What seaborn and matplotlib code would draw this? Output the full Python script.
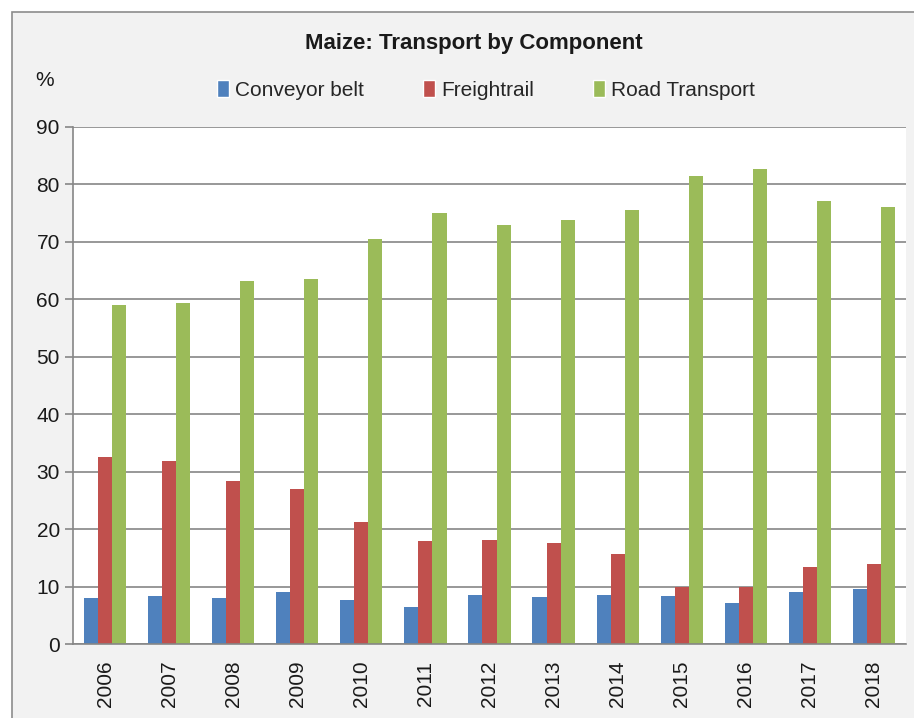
import numpy as np
import pandas as pd
import matplotlib
matplotlib.use('Agg')
import matplotlib.pyplot as plt
from matplotlib.patches import Rectangle
import seaborn as sns

years = ['2006', '2007', '2008', '2009', '2010', '2011', '2012',
         '2013', '2014', '2015', '2016', '2017', '2018']
conveyor = [8.0, 8.4, 8.0, 9.1, 7.7, 6.5, 8.5, 8.2, 8.5, 8.3, 7.1, 9.0, 9.5]
freight = [32.5, 31.9, 28.3, 26.9, 21.2, 18.0, 18.1, 17.6, 15.7, 10.0, 10.0, 13.4, 14.0]
road = [59.0, 59.3, 63.2, 63.5, 70.5, 75.0, 72.9, 73.8, 75.5, 81.5, 82.7, 77.2, 76.0]
components = ['Conveyor belt', 'Freightrail', 'Road Transport']
colors = ['#4f81bd', '#c0504d', '#9bbb59']

df = pd.DataFrame({'Year': years * 3,
                   'Component': np.repeat(components, len(years)),
                   'Value': conveyor + freight + road})

sns.set_theme(style='white')
plt.rcParams['font.family'] = ['Liberation Sans', 'DejaVu Sans']

fig = plt.figure(figsize=(9.14, 7.18), dpi=100)
fig.patch.set_facecolor('white')
# grey chart-area background with a thin border
fig.patches.append(Rectangle((12 / 914, -0.05), 1.1, 1 - 12 / 718 + 0.05,
                             transform=fig.transFigure, facecolor='#f2f2f2',
                             edgecolor='#8c8c8c', linewidth=1.2, zorder=-10))
ax = fig.add_axes([73 / 914, 1 - 644 / 718, 833 / 914, 517 / 718])
ax.set_facecolor('white')

sns.barplot(data=df, x='Year', y='Value', hue='Component', palette=colors,
            width=0.66, gap=0, saturation=1, edgecolor='none', ax=ax, legend=False)

grey = '#868686'
ax.set_ylim(0, 90)
ax.set_xlim(-0.5, len(years) - 0.5)
ax.set_yticks(range(0, 91, 10))
ax.yaxis.grid(True, color=grey, linewidth=1.2)
ax.set_axisbelow(True)
for s in ['top', 'right']:
    ax.spines[s].set_visible(False)
for s in ['left', 'bottom']:
    ax.spines[s].set_color(grey)
    ax.spines[s].set_linewidth(1.2)

# ticks between the year groups
ax.set_xticks(np.arange(-0.5, len(years), 1), minor=True)
ax.tick_params(axis='x', which='major', length=0, labelrotation=90, labelsize=15,
               pad=12, labelcolor='#1a1a1a')
ax.tick_params(axis='x', which='minor', length=7, width=1.2, color=grey, direction='out')
ax.tick_params(axis='y', length=6, width=1.2, color=grey, direction='out',
               labelsize=15, labelcolor='#1a1a1a', left=True)
ax.set_xlabel('')
ax.set_ylabel('')

fig.text(474 / 914, 1 - 43 / 718, 'Maize: Transport by Component', ha='center',
         va='center', fontsize=16, fontweight='bold', color='#1a1a1a')
fig.text(45 / 914, 1 - 81 / 718, '%', ha='center', va='center', fontsize=15,
         color='#1a1a1a')

handles = [Rectangle((0, 0), 1, 1, facecolor=c) for c in colors]
fig.legend(handles, components, loc='center', bbox_to_anchor=(486 / 914, 1 - 90 / 718),
           ncol=3, frameon=False, fontsize=15, handlelength=0.6, handleheight=0.9,
           handletextpad=0.3, columnspacing=2.8)

fig.savefig('out.png', dpi=100, facecolor=fig.get_facecolor())
